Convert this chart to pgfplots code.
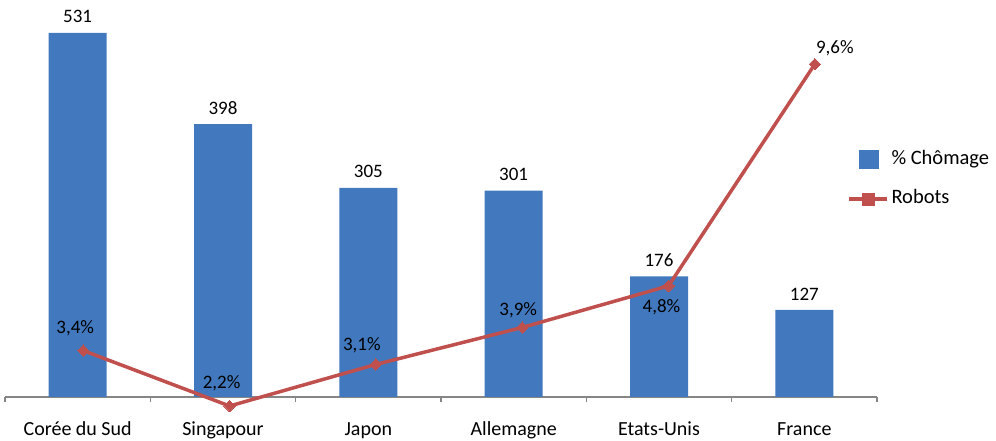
\documentclass[border=0pt]{standalone}
\usepackage{fontspec}
\setmainfont{Carlito}
\usepackage{pgfplots}
\pgfplotsset{compat=1.18}
\definecolor{barblue}{RGB}{65,120,190}
\definecolor{linered}{RGB}{192,80,77}
\definecolor{axgray}{RGB}{134,134,134}
\begin{document}
\begin{tikzpicture}
\useasboundingbox (0,0) rectangle (996bp,441bp);
\begin{axis}[
  at={(5bp,44bp)}, anchor=south west,
  scale only axis, width=872bp, height=397bp,
  xmin=-0.5, xmax=5.5, ymin=0, ymax=579.1,
  axis x line=bottom, axis y line=none,
  axis line style={axgray, line width=1.3bp, -},
  xtick={0,...,5},
  xticklabels={Corée du Sud, Singapour, Japon, Allemagne, Etats-Unis, France},
  major tick length=0pt,
  minor xtick={-0.5,0.5,...,5.5},
  minor tick length=5bp,
  tick align=outside,
  minor tick style={axgray, line width=1.3bp},
  xticklabel style={font=\fontsize{20bp}{24bp}\selectfont, anchor=base, yshift=-38.5bp, text=black},
  ytick=\empty,
  legend style={at={(0.9656,0.6222)}, anchor=north west, draw=none, fill=none,
    inner sep=0pt, outer sep=0pt, font=\fontsize{20.5bp}{24bp}\selectfont,
    cells={anchor=west}, nodes={inner sep=0pt, text height=15bp, text depth=5bp},
    row sep=19bp, column sep=3bp},
]
\addplot[ybar, bar width=58bp, fill=barblue, draw=none,
  point meta=explicit symbolic, nodes near coords,
  nodes near coords align={anchor=south},
  nodes near coords style={font=\fontsize{19bp}{22bp}\selectfont, inner sep=0pt, yshift=9.7bp, text=black},
  legend image code/.code={\fill[barblue] (0bp,-9bp) rectangle (20bp,10bp);}]
  coordinates {(0,531)[531] (1,398)[398] (2,305)[305] (3,301)[301] (4,176)[176] (5,127)[127]};
\addlegendentry{\% Chômage}
\addlegendimage{legend image code/.code={\draw[linered, line width=3.5bp] (-10bp,0bp) -- (28bp,0bp); \fill[linered] (3.5bp,-6bp) rectangle (15.5bp,6bp);}}
\addlegendentry{Robots}
\end{axis}
\begin{axis}[
  at={(5bp,44bp)}, anchor=south west,
  scale only axis, width=872bp, height=397bp,
  xmin=-0.535, xmax=5.425, ymin=2.395, ymax=10.988,
  hide axis, clip=false]
\addplot[linered, line width=3.5bp, mark=square*, mark size=4bp,
  mark options={rotate=45, solid, fill=linered, draw=linered, line width=0pt},
  point meta=explicit symbolic, nodes near coords={\pgfplotspointmeta\%},
  visualization depends on={\thisrow{dx} \as \dx},
  visualization depends on={\thisrow{dy} \as \dy},
  nodes near coords align={anchor=center},
  nodes near coords style={inner sep=0pt, xshift=\dx bp, yshift=\dy bp, font=\fontsize{19bp}{22bp}\selectfont, text=black}]
  table[x=x, y=y, meta=lab] {
x y lab dx dy
0 3.4 3,4 -8 22.7
1 2.2 2,2 -8 23
2 3.1 3,1 -14 19
3 3.9 3,9 -4 17
4 4.8 4,8 -7 -21
5 9.6 9,6 20 16
};
\end{axis}
\end{tikzpicture}
\end{document}
